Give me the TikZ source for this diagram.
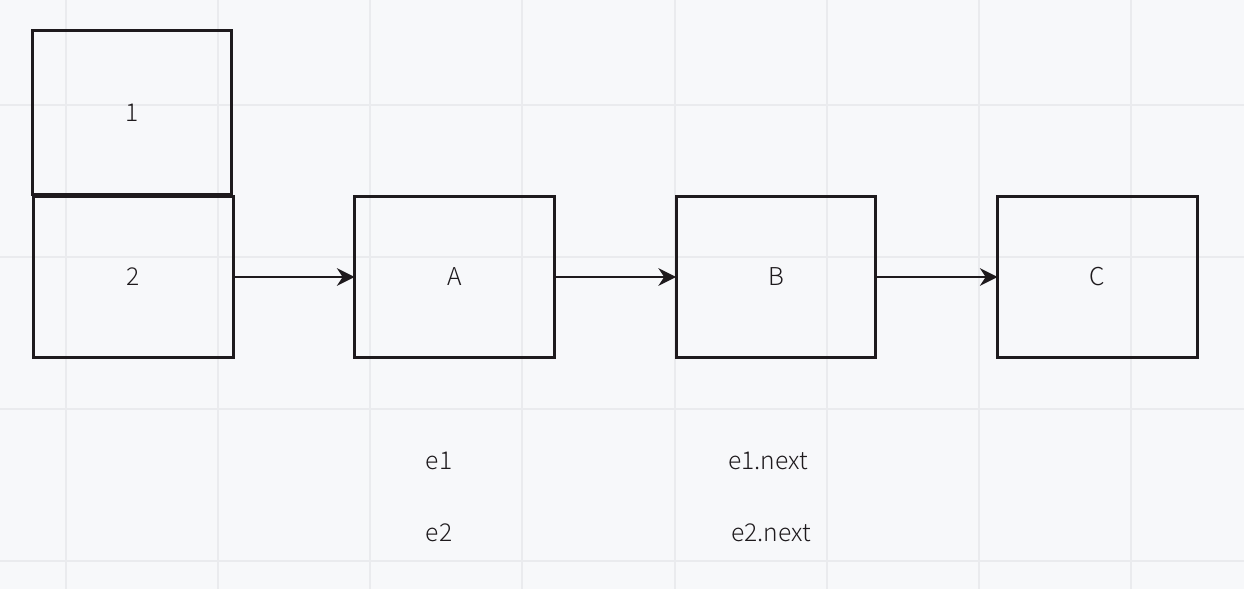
\documentclass[tikz,border=0pt]{standalone}
\usepackage{fontspec}
\setmainfont{Noto Sans CJK SC}[UprightFont={* Light}]
\usetikzlibrary{arrows.meta}
\definecolor{bgcol}{HTML}{F7F8FA}
\definecolor{gridcol}{HTML}{EAEBEE}
\definecolor{inkcol}{HTML}{1E1A1D}
\tikzset{
  cell/.style={draw=inkcol, line width=1.7pt, minimum width=4cm, minimum height=3.24cm,
    inner sep=0pt, outer sep=0pt, font=\fontsize{14}{16}\selectfont, text=inkcol},
  link/.style={draw=inkcol, line width=1.5pt, -{Stealth[length=10pt,width=10pt]}},
  tag/.style={font=\fontsize{14}{16}\selectfont, text=inkcol}
}
\begin{document}
\begin{tikzpicture}[x=0.02cm, y=-0.02cm]
        \fill[bgcol] (0,0) rectangle (1244,589);
        \useasboundingbox (0,0) rectangle (1244,589);
        \foreach \gx in {66,218,370,522,675,827,979,1131}
          \draw[gridcol, line width=0.9pt] (\gx,0) -- (\gx,589);
        \foreach \gy in {105,257,409,561}
          \draw[gridcol, line width=0.9pt] (0,\gy) -- (1244,\gy);

        \node (one) at (132,112.5) [cell, minimum height=3.28cm] {1};
        \node (two) at (133.5,277) [cell] {2};
        \node (A) at (454.5,277) [cell] {A};
        \node (B) at (776,277) [cell] {B};
        \node (C) at (1097.5,277) [cell] {C};

        \draw[link] (two) -- (A);
        \draw[link] (A) -- (B);
        \draw[link] (B) -- (C);

        \node (e1) at (439,461) [tag] {e1};
        \node (e1next) at (768,461) [tag] {e1.next};
        \node (e2) at (439,533) [tag] {e2};
        \node (e2next) at (771,533) [tag] {e2.next};
      \end{tikzpicture}
\end{document}
